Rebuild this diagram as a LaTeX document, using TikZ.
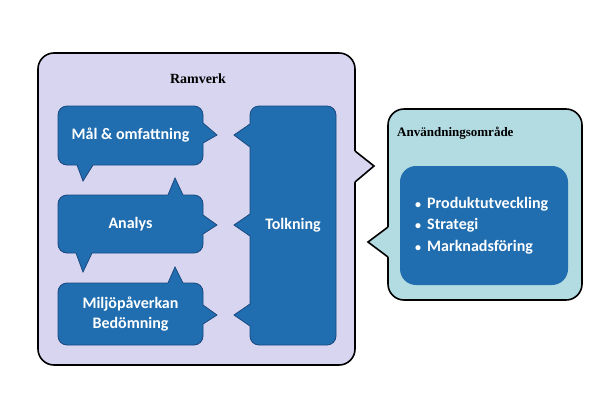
\documentclass[tikz,border=0pt]{standalone}
\usepackage{fontspec}
\setmainfont{Carlito}
\newfontfamily\titlefont{Liberation Serif}
\usetikzlibrary{calc}
\definecolor{bfill}{RGB}{32,110,176}
\definecolor{bline}{RGB}{26,72,128}
\definecolor{frfill}{RGB}{216,213,240}
\definecolor{anfill}{RGB}{178,219,226}
\tikzset{
  bbox/.style={draw=bline, line width=0.8pt, fill=bfill, rounded corners=9pt, inner sep=0pt,
    text=white, font=\fontsize{16}{20}\selectfont\bfseries, align=center},
  bigbox/.style={draw=black, line width=1.6pt, rounded corners=16pt, inner sep=0pt},
  ttl/.style={font=\titlefont\bfseries, text=black, inner sep=0pt}
}
% pointer: #1 fill colour, #2 line style, #3 base1, #4 tip, #5 base2, #6 inward shift
\newcommand\bubptr[6]{%
  \fill[#1] ($(#3)+(#6)$) -- (#3) -- (#4) -- (#5) -- ($(#5)+(#6)$) -- cycle;
  \draw[#2, line join=miter] (#3) -- (#4) -- (#5);}
\newcommand\mybul{\makebox[12pt][l]{\fontsize{12}{12}\selectfont•}}
\begin{document}
\begin{tikzpicture}[x=1pt,y=-1pt]
\fill[white] (0,0) rectangle (605,402);
\useasboundingbox (0,0) rectangle (605,402);
% Ramverk frame
\node[bigbox, fill=frfill, minimum width=317pt, minimum height=312pt] (frame) at (196.5,209) {};
\bubptr{frfill}{black,line width=1.6pt}{355,151}{374,166}{355,182}{-4,0}
\node[ttl, font=\titlefont\bfseries\fontsize{14}{16}\selectfont] (ramverk) at (198,79) {Ramverk};
% Användningsområde
\node[bigbox, fill=anfill, minimum width=194pt, minimum height=191pt] (anv) at (485,204.5) {};
\bubptr{anfill}{black,line width=1.6pt}{388,227}{368,242}{388,257}{4,0}
\node[ttl, font=\titlefont\bfseries\fontsize{13}{15}\selectfont, anchor=west] (anvt) at (397,133) {Användningsområde};
\node[draw=none, fill=bfill, rounded corners=16pt, minimum width=168pt, minimum height=119pt, inner sep=0pt] (inner) at (484,225.5) {};
\node[anchor=west, inner sep=0pt, text=white, align=left, font=\fontsize{16}{21.5}\selectfont\bfseries] (list) at (415,225.5)
  {\mybul Produktutveckling\\\mybul Strategi\\\mybul Marknadsföring};
% blue boxes
\node[bbox, minimum width=145pt, minimum height=59pt] (mal) at (130.5,135.5) {Mål \& omfattning};
\node[bbox, minimum width=145pt, minimum height=58pt] (analys) at (130.5,224) {Analys};
\node[bbox, minimum width=145pt, minimum height=62pt] (milj) at (130.5,314) {Miljöpåverkan\\Bedömning};
\node[bbox, minimum width=86pt, minimum height=239pt] (tolk) at (293,225.5) {Tolkning};
% pointers of blue boxes
\bubptr{bfill}{bline,line width=0.8pt}{203,123}{217,135}{203,143}{-4,0}
\bubptr{bfill}{bline,line width=0.8pt}{77,165}{83,181}{93,165}{0,-4}
\bubptr{bfill}{bline,line width=0.8pt}{168,195}{175,178}{183,195}{0,4}
\bubptr{bfill}{bline,line width=0.8pt}{203,215}{217,225}{203,234}{-4,0}
\bubptr{bfill}{bline,line width=0.8pt}{76,253}{83,272}{92,253}{0,-4}
\bubptr{bfill}{bline,line width=0.8pt}{168,283}{175,267}{183,283}{0,4}
\bubptr{bfill}{bline,line width=0.8pt}{203,305}{217,315}{203,324}{-4,0}
\bubptr{bfill}{bline,line width=0.8pt}{250,124}{234,135}{250,147}{4,0}
\bubptr{bfill}{bline,line width=0.8pt}{250,214}{234,225}{250,236}{4,0}
\bubptr{bfill}{bline,line width=0.8pt}{250,304}{234,315}{250,326}{4,0}
\end{tikzpicture}
\end{document}
